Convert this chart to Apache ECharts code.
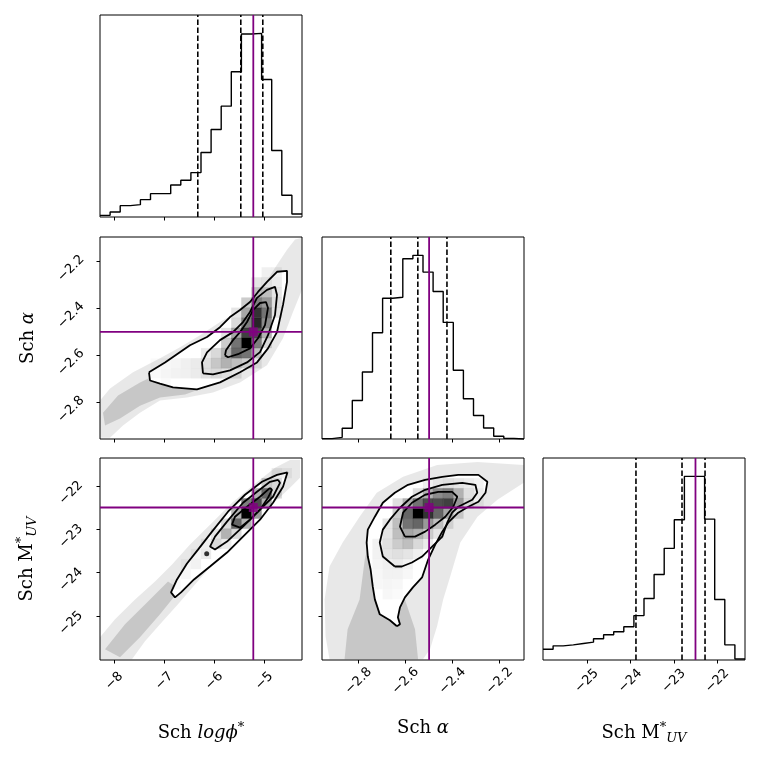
<!DOCTYPE html>
<html>
<head>
<meta charset="utf-8">
<script src="https://cdn.jsdelivr.net/npm/echarts@6/dist/echarts.min.js"></script>
<style>
  html, body { margin: 0; padding: 0; background: #fff; }
  #chart { width: 760px; height: 760px; }
</style>
</head>
<body>
<div id="chart"></div>
<script>
// axis ranges and ticks
const phiRange = [-8.286, -4.246];
const alphaRange = [-2.956, -2.096];
const muvRange = [-26.01, -21.36];
const phiTicks = [-8, -7, -6, -5];
const alphaTicks = [-2.8, -2.6, -2.4, -2.2];
const muvTicks = [-25, -24, -23, -22];

// truth values and 16/50/84 quantiles
const phiTruth = -5.22;
const alphaTruth = -2.5;
const muvTruth = -22.5;
const phiQuantiles = [-6.33, -5.47, -5.03];
const alphaQuantiles = [-2.663, -2.548, -2.424];
const muvQuantiles = [-23.87, -22.81, -22.28];

// 1D histograms (20 bins over the axis range)
const phiHist = [5, 15, 34, 37, 52, 70, 70, 96, 110, 133, 193, 262, 332, 435, 548, 550, 412, 199, 65, 9];
const alphaHist = [1, 5, 32, 115, 200, 317, 420, 423, 538, 548, 498, 440, 348, 205, 120, 70, 33, 8, 2, 0];
const muvHist = [32, 42, 45, 49, 53, 63, 75, 84, 99, 132, 183, 254, 332, 417, 546, 546, 419, 180, 45, 3];

// 2D density cells [ix, iy, density]
const phiAlphaCells = [
  [14,7,0.2],[14,8,0.55],[14,9,1.0],[14,10,0.75],[14,11,0.5],[14,12,0.35],[14,13,0.2],
  [15,7,0.08],[15,8,0.25],[15,9,0.5],[15,10,0.7],[15,11,0.85],[15,12,0.8],[15,13,0.5],[15,14,0.25],[15,15,0.1],
  [16,9,0.15],[16,10,0.3],[16,11,0.45],[16,12,0.55],[16,13,0.4],[16,14,0.25],[16,15,0.12],[16,16,0.06],
  [17,12,0.1],[17,13,0.12],[17,14,0.1],[17,15,0.08],[17,16,0.06],
  [13,6,0.1],[13,7,0.25],[13,8,0.6],[13,9,0.55],[13,10,0.35],[13,11,0.15],[13,12,0.1],
  [12,6,0.12],[12,7,0.3],[12,8,0.3],[12,9,0.2],[12,10,0.1],
  [11,6,0.15],[11,7,0.22],[11,8,0.15],
  [10,6,0.12],[10,7,0.12],[10,8,0.08],
  [9,6,0.08],[9,7,0.08],[8,6,0.06],[8,7,0.06],[7,6,0.05],[7,7,0.04],
  [6,5,0.02],[6,6,0.04],[6,7,0.03],[5,6,0.02],[5,7,0.02]
];
const phiMuvCells = [
  [14,14,1.0],[15,15,0.7],[15,14,0.4],[14,15,0.5],[16,16,0.6],[16,15,0.3],[15,16,0.3],
  [13,13,0.6],[13,14,0.3],[14,13,0.3],[12,12,0.3],[12,13,0.15],[13,12,0.15],
  [11,11,0.15],[11,12,0.1],[12,11,0.08],[10,10,0.08],[10,11,0.06],[9,9,0.05],[9,10,0.04],
  [8,8,0.03],[8,9,0.03],[7,7,0.02],[17,16,0.15],[16,17,0.2],[17,17,0.15],[18,18,0.05],[17,18,0.08]
];
const alphaMuvCells = [
  [10,17,0.06],[11,17,0.1],[12,17,0.12],[13,17,0.1],[14,17,0.08],[15,17,0.05],
  [9,16,0.12],[10,16,0.3],[11,16,0.45],[12,16,0.5],[13,16,0.3],[14,16,0.12],[15,16,0.08],
  [7,15,0.12],[8,15,0.3],[9,15,0.55],[10,15,0.7],[11,15,0.7],[12,15,0.75],[13,15,0.4],[14,15,0.15],[15,15,0.06],
  [7,14,0.2],[8,14,0.6],[9,14,1.0],[10,14,0.8],[11,14,0.6],[12,14,0.35],[13,14,0.15],
  [6,13,0.1],[7,13,0.25],[8,13,0.55],[9,13,0.6],[10,13,0.4],[11,13,0.25],[12,13,0.1],
  [6,12,0.1],[7,12,0.25],[8,12,0.35],[9,12,0.3],[10,12,0.2],[11,12,0.1],
  [5,11,0.05],[6,11,0.12],[7,11,0.2],[8,11,0.25],[9,11,0.15],[10,11,0.08],
  [5,10,0.05],[6,10,0.1],[7,10,0.12],[8,10,0.1],[9,10,0.06],
  [5,9,0.04],[6,9,0.06],[7,9,0.08],[8,9,0.05],
  [5,8,0.03],[6,8,0.05],[7,8,0.05],[8,8,0.03],
  [5,7,0.03],[6,7,0.04],[7,7,0.03],[6,6,0.03],[7,6,0.02]
];

// sample clouds (outline of scattered points) and denser cores
const phiAlphaCloud = [
  [-8.286,-2.792],[-8.086,-2.741],[-7.626,-2.672],[-7.086,-2.612],[-6.686,-2.565],[-6.286,-2.514],
  [-5.886,-2.458],[-5.486,-2.407],[-5.086,-2.330],[-4.786,-2.227],[-4.546,-2.150],[-4.386,-2.107],
  [-4.246,-2.099],[-4.246,-2.321],[-4.426,-2.415],[-4.626,-2.527],[-4.946,-2.642],[-5.486,-2.715],
  [-6.026,-2.758],[-6.546,-2.779],[-7.086,-2.792],[-7.486,-2.844],[-7.826,-2.899],[-8.086,-2.951],[-8.286,-2.951]
];
const phiAlphaCore = [
  [-8.226,-2.844],[-7.926,-2.771],[-7.486,-2.715],[-6.986,-2.664],[-6.486,-2.630],[-6.086,-2.728],
  [-6.586,-2.767],[-7.086,-2.779],[-7.486,-2.814],[-7.886,-2.869],[-8.186,-2.899]
];
const phiMuvCloud = [
  [-8.286,-25.486],[-7.986,-25.073],[-7.586,-24.615],[-7.186,-24.202],[-6.846,-23.812],[-6.486,-23.353],
  [-6.086,-22.894],[-5.646,-22.390],[-5.186,-21.954],[-4.786,-21.587],[-4.486,-21.404],[-4.286,-21.404],
  [-4.286,-21.817],[-4.486,-22.046],[-4.786,-22.367],[-5.186,-22.826],[-5.586,-23.284],[-5.986,-23.743],
  [-6.386,-24.271],[-6.726,-24.729],[-7.086,-25.188],[-7.386,-25.578],[-7.646,-25.991],[-8.286,-25.991]
];
const phiMuvCore = [
  [-8.186,-25.761],[-7.786,-25.188],[-7.286,-24.615],[-6.926,-24.202],[-6.686,-24.385],
  [-7.086,-24.959],[-7.486,-25.486],[-7.886,-25.945]
];
const alphaMuvCloud = [
  [-2.868,-23.307],[-2.796,-22.711],[-2.723,-22.161],[-2.611,-21.794],[-2.466,-21.519],[-2.294,-21.450],
  [-2.097,-21.519],[-2.097,-21.931],[-2.209,-22.321],[-2.294,-22.711],[-2.367,-23.307],[-2.410,-24.087],
  [-2.440,-24.615],[-2.466,-25.234],[-2.496,-25.761],[-2.526,-25.991],[-2.924,-25.991],[-2.941,-25.463],
  [-2.945,-24.615],[-2.924,-23.858]
];
const alphaMuvCore = [
  [-2.860,-25.991],[-2.847,-25.303],[-2.796,-24.615],[-2.774,-23.697],[-2.744,-23.009],[-2.688,-22.780],
  [-2.646,-23.697],[-2.603,-24.615],[-2.560,-25.303],[-2.547,-25.991]
];

// contour levels, outer to inner
const phiAlphaContours = [
  [[-7.306,-2.672],[-6.986,-2.630],[-6.486,-2.557],[-6.146,-2.522],[-5.886,-2.480],[-5.686,-2.437],
   [-5.486,-2.407],[-5.286,-2.373],[-5.126,-2.330],[-4.946,-2.287],[-4.746,-2.244],[-4.546,-2.240],
   [-4.546,-2.287],[-4.626,-2.385],[-4.746,-2.501],[-4.926,-2.570],[-5.146,-2.630],[-5.486,-2.672],
   [-5.886,-2.715],[-6.346,-2.745],[-6.826,-2.736],[-7.086,-2.720],[-7.286,-2.707]],
  [[-6.226,-2.677],[-6.246,-2.630],[-6.146,-2.587],[-5.886,-2.535],[-5.626,-2.501],[-5.426,-2.458],
   [-5.286,-2.415],[-5.146,-2.355],[-4.946,-2.321],[-4.786,-2.308],[-4.746,-2.343],[-4.786,-2.428],
   [-4.926,-2.514],[-5.086,-2.586],[-5.346,-2.630],[-5.686,-2.664],[-6.026,-2.681]],
  [[-5.786,-2.600],[-5.766,-2.578],[-5.626,-2.535],[-5.486,-2.501],[-5.346,-2.458],[-5.226,-2.407],
   [-5.086,-2.377],[-4.966,-2.373],[-4.926,-2.398],[-4.986,-2.471],[-5.126,-2.527],[-5.286,-2.570],
   [-5.526,-2.595],[-5.726,-2.608]]
];
const phiMuvContours = [
  [[-4.536,-21.690],[-4.746,-21.748],[-5.046,-21.908],[-5.386,-22.206],[-5.726,-22.596],[-6.046,-23.055],
   [-6.326,-23.468],[-6.546,-23.789],[-6.746,-24.156],[-6.866,-24.454],[-6.786,-24.569],[-6.666,-24.454],
   [-6.406,-24.156],[-6.086,-23.858],[-5.746,-23.537],[-5.426,-23.170],[-5.086,-22.780],[-4.826,-22.390],
   [-4.626,-22.023]],
  [[-4.726,-21.862],[-4.886,-21.908],[-5.146,-22.138],[-5.426,-22.390],[-5.746,-22.826],[-5.986,-23.170],
   [-6.086,-23.399],[-5.986,-23.468],[-5.746,-23.284],[-5.426,-22.940],[-5.086,-22.550],[-4.826,-22.252],
   [-4.686,-21.931]],
  [[-4.886,-22.046],[-5.086,-22.252],[-5.346,-22.482],[-5.586,-22.711],[-5.646,-22.894],[-5.486,-22.963],
   [-5.286,-22.780],[-5.086,-22.550],[-4.926,-22.275],[-4.846,-22.092]]
];
const phiMuvIsland = [[-6.152, -23.567]];
const alphaMuvContours = [
  [[-2.637,-25.234],[-2.667,-25.096],[-2.710,-24.959],[-2.731,-24.615],[-2.740,-24.317],[-2.749,-23.927],
   [-2.761,-23.628],[-2.766,-23.307],[-2.761,-23.009],[-2.731,-22.711],[-2.697,-22.390],[-2.646,-22.161],
   [-2.590,-21.977],[-2.517,-21.862],[-2.444,-21.794],[-2.376,-21.748],[-2.290,-21.748],[-2.252,-21.908],
   [-2.260,-22.161],[-2.290,-22.367],[-2.333,-22.482],[-2.376,-22.619],[-2.419,-22.849],[-2.444,-23.055],
   [-2.474,-23.353],[-2.504,-23.697],[-2.530,-24.110],[-2.569,-24.339],[-2.603,-24.569],[-2.624,-24.798],
   [-2.633,-25.028],[-2.624,-25.188]],
  [[-2.646,-23.858],[-2.697,-23.628],[-2.710,-23.307],[-2.697,-23.009],[-2.667,-22.780],[-2.624,-22.505],
   [-2.573,-22.252],[-2.517,-22.092],[-2.444,-21.977],[-2.359,-21.931],[-2.303,-21.977],[-2.295,-22.161],
   [-2.316,-22.321],[-2.376,-22.482],[-2.402,-22.619],[-2.423,-22.849],[-2.444,-23.170],[-2.487,-23.399],
   [-2.530,-23.628],[-2.573,-23.766],[-2.616,-23.858]],
  [[-2.603,-23.170],[-2.624,-22.940],[-2.611,-22.619],[-2.573,-22.390],[-2.517,-22.206],[-2.461,-22.138],
   [-2.402,-22.138],[-2.380,-22.252],[-2.397,-22.482],[-2.431,-22.711],[-2.474,-22.894],[-2.517,-23.055],
   [-2.560,-23.170]]
];

const PURPLE = '#800080';
const cols = [100, 322, 543];
const rows = [15, 237, 458];
const SIZE = 202;
const NBINS = 20;

const minus = v => (v < 0 ? '\u2212' : '') + Math.abs(v);

const nameRich = {
  i: { fontFamily: 'DejaVu Serif', fontStyle: 'italic', fontSize: 18, lineHeight: 24, color: '#000' },
  sup: { fontFamily: 'DejaVu Serif', fontSize: 13, lineHeight: 14, verticalAlign: 'top', color: '#000' },
  sub: { fontFamily: 'DejaVu Serif', fontStyle: 'italic', fontSize: 13, lineHeight: 14, verticalAlign: 'bottom', color: '#000' }
};
const nameStyle = { fontFamily: 'DejaVu Serif', fontSize: 18, lineHeight: 24, color: '#000', rich: nameRich };

function valueAxis(gi, range, ticks, showLabels, isY, name, nameGap) {
  const ax = {
    type: 'value', gridIndex: gi, min: range[0], max: range[1],
    axisLine: { show: false },
    splitLine: { show: false },
    axisTick: { show: true, customValues: ticks, length: 3.5, lineStyle: { color: '#000', width: 1 } },
    axisLabel: {
      show: showLabels, customValues: ticks, formatter: minus, rotate: 45,
      align: 'center', verticalAlign: isY ? 'top' : 'middle', lineHeight: isY ? 20 : 16,
      margin: isY ? 36 : 21,
      fontFamily: 'DejaVu Sans', fontSize: 13, color: '#000'
    }
  };
  if (name) {
    ax.name = name;
    ax.nameLocation = 'middle';
    ax.nameGap = nameGap;
    ax.nameTextStyle = nameStyle;
  }
  return ax;
}

function histYAxis(gi, counts) {
  return {
    type: 'value', gridIndex: gi, min: 0, max: 1.1 * Math.max(...counts),
    axisLine: { show: false }, axisTick: { show: false }, axisLabel: { show: false }, splitLine: { show: false }
  };
}

function stepData(range, counts) {
  const w = (range[1] - range[0]) / counts.length;
  const pts = counts.map((c, i) => [range[0] + i * w, c]);
  pts.push([range[1], counts[counts.length - 1]]);
  return pts;
}

function vline(gi, x, lo, hi, color, type, z) {
  return {
    type: 'line', xAxisIndex: gi, yAxisIndex: gi, data: [[x, lo], [x, hi]], symbol: 'none',
    silent: true, z: z, lineStyle: { color: color, width: type === 'solid' ? 1.8 : 1.6, type: type }
  };
}

function hline(gi, y, lo, hi, z) {
  return {
    type: 'line', xAxisIndex: gi, yAxisIndex: gi, data: [[lo, y], [hi, y]], symbol: 'none',
    silent: true, z: z, lineStyle: { color: PURPLE, width: 1.8 }
  };
}

function polygon(gi, pts, fill, z) {
  return {
    type: 'custom', xAxisIndex: gi, yAxisIndex: gi, z: z, silent: true, clip: true,
    data: [pts[0]],
    renderItem: (params, api) => ({
      type: 'polygon',
      shape: { points: pts.map(p => api.coord(p)) },
      style: { fill: fill }
    })
  };
}

function cellSeries(gi, xr, yr, cells) {
  const bx = (xr[1] - xr[0]) / NBINS, by = (yr[1] - yr[0]) / NBINS;
  return {
    type: 'custom', xAxisIndex: gi, yAxisIndex: gi, z: 3, silent: true, clip: true,
    data: cells,
    renderItem: (params, api) => {
      const x0 = xr[0] + api.value(0) * bx, y0 = yr[0] + api.value(1) * by;
      const p0 = api.coord([x0, y0]), p1 = api.coord([x0 + bx, y0 + by]);
      return {
        type: 'rect',
        shape: { x: p0[0], y: p1[1], width: p1[0] - p0[0], height: p0[1] - p1[1] },
        style: { fill: 'rgba(0,0,0,' + api.value(2) + ')', stroke: 'rgba(0,0,0,' + (api.value(2) * 0.6) + ')', lineWidth: 0.3 }
      };
    }
  };
}

function contourLines(gi, contours) {
  return contours.map(c => ({
    type: 'line', xAxisIndex: gi, yAxisIndex: gi, data: c.concat([c[0]]), symbol: 'none',
    silent: true, z: 4, lineStyle: { color: '#000', width: 1.8 }
  }));
}

function histPanel(gi, range, counts, quantiles, truthVal) {
  const top = 1.1 * Math.max(...counts);
  const s = [{
    type: 'line', xAxisIndex: gi, yAxisIndex: gi, data: stepData(range, counts), step: 'end',
    symbol: 'none', silent: true, z: 3, lineStyle: { color: '#000', width: 1.4 }
  }];
  quantiles.forEach(q => s.push(vline(gi, q, 0, top, '#000', [5.5, 2.5], 4)));
  s.push(vline(gi, truthVal, 0, top, PURPLE, 'solid', 5));
  return s;
}

function scatterPanel(gi, xr, yr, cloud, core, cells, contours, tx, ty) {
  return [
    polygon(gi, cloud, 'rgba(0,0,0,0.09)', 1),
    polygon(gi, core, 'rgba(0,0,0,0.14)', 1),
    polygon(gi, contours[0], '#fff', 2),
    cellSeries(gi, xr, yr, cells),
    ...contourLines(gi, contours),
    vline(gi, tx, yr[0], yr[1], PURPLE, 'solid', 5),
    hline(gi, ty, xr[0], xr[1], 5),
    {
      type: 'scatter', xAxisIndex: gi, yAxisIndex: gi, data: [[tx, ty]], symbol: 'rect', symbolSize: 9,
      silent: true, z: 6, itemStyle: { color: PURPLE }
    }
  ];
}

const grids = [
  [0, 0], [1, 0], [1, 1], [2, 0], [2, 1], [2, 2]
].map(([r, c]) => ({
  left: cols[c], top: rows[r], width: SIZE, height: SIZE,
  show: true, borderColor: '#000', borderWidth: 1, backgroundColor: '#fff'
}));

const xAxes = [
  valueAxis(0, phiRange, phiTicks, false, false),
  valueAxis(1, phiRange, phiTicks, false, false),
  valueAxis(2, alphaRange, alphaTicks, false, false),
  valueAxis(3, phiRange, phiTicks, true, false, 'Sch {i|log\u03d5}{sup|*}', 61),
  valueAxis(4, alphaRange, alphaTicks, true, false, 'Sch {i|\u03b1}', 56),
  valueAxis(5, muvRange, muvTicks, true, false, 'Sch M{sup|*}{sub|UV}', 61)
];
const yAxes = [
  histYAxis(0, phiHist),
  valueAxis(1, alphaRange, alphaTicks, true, true, 'Sch {i|\u03b1}', 60),
  histYAxis(2, alphaHist),
  valueAxis(3, muvRange, muvTicks, true, true, 'Sch M{sup|*}{sub|UV}', 61),
  valueAxis(4, muvRange, muvTicks, false, true),
  histYAxis(5, muvHist)
];

const series = [
  ...histPanel(0, phiRange, phiHist, phiQuantiles, phiTruth),
  ...scatterPanel(1, phiRange, alphaRange, phiAlphaCloud, phiAlphaCore, phiAlphaCells, phiAlphaContours, phiTruth, alphaTruth),
  ...histPanel(2, alphaRange, alphaHist, alphaQuantiles, alphaTruth),
  ...scatterPanel(3, phiRange, muvRange, phiMuvCloud, phiMuvCore, phiMuvCells, phiMuvContours, phiTruth, muvTruth),
  {
    type: 'scatter', xAxisIndex: 3, yAxisIndex: 3, data: phiMuvIsland, symbol: 'circle', symbolSize: 5,
    silent: true, z: 4, itemStyle: { color: '#000' }
  },
  ...scatterPanel(4, alphaRange, muvRange, alphaMuvCloud, alphaMuvCore, alphaMuvCells, alphaMuvContours, alphaTruth, muvTruth),
  ...histPanel(5, muvRange, muvHist, muvQuantiles, muvTruth)
];

const chart = echarts.init(document.getElementById('chart'));
chart.setOption({
  animation: false,
  backgroundColor: '#fff',
  grid: grids,
  xAxis: xAxes,
  yAxis: yAxes,
  series: series
});
window.addEventListener('resize', () => chart.resize());
</script>
</body>
</html>
